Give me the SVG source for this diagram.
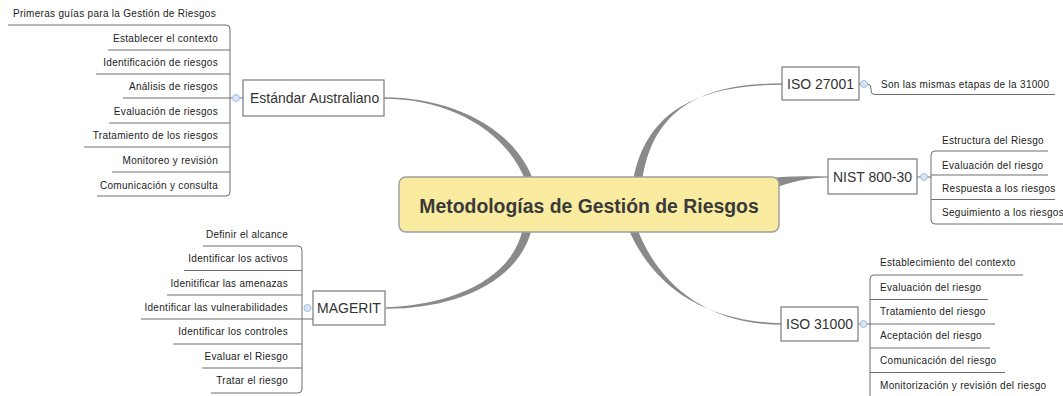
<svg xmlns="http://www.w3.org/2000/svg" width="1063" height="396" viewBox="0 0 1063 396">
<style>
.bg{fill:#ffffff}
.conn{fill:#8a8a8a;stroke:none}
.box{fill:#ffffff;stroke:#7a7a7a;stroke-width:1.2}
.central{fill:#f9eb9f;stroke:#a0a0a0;stroke-width:1.5}
.title{font-family:"Liberation Sans",Arial,sans-serif;font-weight:bold;font-size:19.4px;fill:#3a3a3a;text-anchor:middle}
.topic{font-family:"Liberation Sans",Arial,sans-serif;font-size:14px;fill:#333333}
.sub{font-family:"Liberation Sans",Arial,sans-serif;font-size:10px;letter-spacing:0.3px;fill:#222222}
.end{text-anchor:end}
.line{fill:none;stroke:#6e6e6e;stroke-width:1}
.knob{fill:#d8e3f6;stroke:#a7bde3;stroke-width:1}
</style>
<rect class="bg" x="0" y="0" width="1063" height="396"/>

<g id="connectors">
  <path class="conn" d="M384,97.3 C450,97.3 515,127 534,182 L526,182 C507,131 450,98.7 384,98.7 Z"/>
  <path class="conn" d="M782,83.3 C700,83.3 652,110 642,182 L633,182 C645,110 700,84.7 782,84.7 Z"/>
  <path class="conn" d="M386,307.3 C450,305 512,281 523,228 L532,228 C519,284 452,309 386,308.7 Z"/>
  <path class="conn" d="M781,323.3 C700,321 651,283 628,228 L637,228 C656,279 702,324.7 781,324.7 Z"/>
  <path class="conn" d="M770,178 C792,176 808,176.4 829,176.4 L829,177.6 C808,178 792,181 770,190 Z"/>

  <!-- Estándar Australiano sub-branches -->
  <path class="line" d="M8,25 H226 Q230,25 230,29 V192 Q230,196 226,196 H97"/>
  <path class="line" d="M108,50 H230 M96,74 H230 M123,98 H243 M109,123 H230 M84,147 H230 M112,172 H230"/>
  <!-- MAGERIT sub-branches -->
  <path class="line" d="M203,246 H298 Q302,246 302,250 V389 Q302,393 298,393 H211"/>
  <path class="line" d="M184,270.5 H302 M167,295 H302 M141,319 H313 M173,344 H302 M202,368 H302"/>
  <!-- ISO 27001 sub-branch -->
  <path class="line" d="M859,84 H867 Q871,84 871,88 V91 Q871,94.5 875,94.5 H1055"/>
  <!-- NIST sub-branches -->
  <path class="line" d="M1048,151 H935 Q931,151 931,155 V220 Q931,224 935,224 H1063"/>
  <path class="line" d="M931,175 H1048 M931,199.5 H1055 M917,177 H931"/>
  <!-- ISO 31000 sub-branches -->
  <path class="line" d="M1023,275 H874 Q870,275 870,279 V400"/>
  <path class="line" d="M870,299.5 H988 M858,324 H995 M870,348 H990 M870,372.5 H1005 M870,397 H1050"/>

  <circle class="knob" cx="236" cy="98" r="3.5"/>
  <circle class="knob" cx="307.5" cy="308" r="3.5"/>
  <circle class="knob" cx="864" cy="84" r="3.5"/>
  <circle class="knob" cx="924" cy="177" r="3.5"/>
  <circle class="knob" cx="863.5" cy="324" r="3.5"/>
</g>

<g id="central">
  <rect class="central" x="399" y="177" width="380" height="55" rx="7"/>
  <text class="title" x="589" y="213">Metodologías de Gestión de Riesgos</text>
</g>

<g id="estandar">
  <rect class="box" x="243" y="80" width="141" height="36"/>
  <text class="topic" x="250" y="103">Estándar Australiano</text>
  <text class="sub" x="13" y="16.5">Primeras guías para la Gestión de Riesgos</text>
  <text class="sub end" x="218" y="41.5">Establecer el contexto</text>
  <text class="sub end" x="218" y="66">Identificación de riesgos</text>
  <text class="sub end" x="218" y="90">Análisis de riesgos</text>
  <text class="sub end" x="218" y="114.5">Evaluación de riesgos</text>
  <text class="sub end" x="218" y="139">Tratamiento de los riesgos</text>
  <text class="sub end" x="218" y="163.5">Monitoreo y revisión</text>
  <text class="sub end" x="218" y="188.5">Comunicación y consulta</text>
</g>

<g id="magerit">
  <rect class="box" x="313" y="291" width="72" height="34"/>
  <text class="topic" x="349" y="313" text-anchor="middle">MAGERIT</text>
  <text class="sub end" x="288" y="237.5">Definir el alcance</text>
  <text class="sub end" x="288" y="262">Identificar los activos</text>
  <text class="sub end" x="288" y="286.5">Idenitificar las amenazas</text>
  <text class="sub end" x="288" y="311">Identificar las vulnerabilidades</text>
  <text class="sub end" x="288" y="335">Identificar los controles</text>
  <text class="sub end" x="288" y="359.5">Evaluar el Riesgo</text>
  <text class="sub end" x="288" y="384">Tratar el riesgo</text>
</g>

<g id="iso27001">
  <rect class="box" x="782" y="67" width="77" height="33"/>
  <text class="topic" x="820.5" y="89" text-anchor="middle">ISO 27001</text>
  <text class="sub" x="881" y="87.5">Son las mismas etapas de la 31000</text>
</g>

<g id="nist">
  <rect class="box" x="828" y="159" width="89" height="35"/>
  <text class="topic" x="872.5" y="182" text-anchor="middle">NIST 800-30</text>
  <text class="sub" x="942" y="144">Estructura del Riesgo</text>
  <text class="sub" x="942" y="168.5">Evaluación del riesgo</text>
  <text class="sub" x="942" y="192">Respuesta a los riesgos</text>
  <text class="sub" x="942" y="216">Seguimiento a los riesgos</text>
</g>

<g id="iso31000">
  <rect class="box" x="781" y="307" width="77" height="34"/>
  <text class="topic" x="819.5" y="329" text-anchor="middle">ISO 31000</text>
  <text class="sub" x="880" y="266">Establecimiento del contexto</text>
  <text class="sub" x="880" y="291">Evaluación del riesgo</text>
  <text class="sub" x="880" y="315">Tratamiento del riesgo</text>
  <text class="sub" x="880" y="339">Aceptación del riesgo</text>
  <text class="sub" x="880" y="363.5">Comunicación del riesgo</text>
  <text class="sub" x="880" y="388.5">Monitorización y revisión del riesgo</text>
</g>
</svg>
